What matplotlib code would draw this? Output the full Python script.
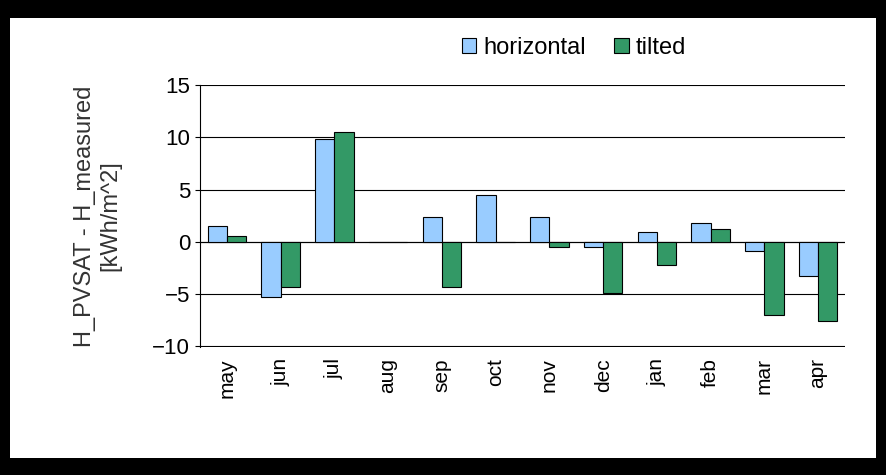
import matplotlib.pyplot as plt
import numpy as np
from matplotlib.patches import Rectangle

plt.rcParams["font.family"] = ["Liberation Sans", "DejaVu Sans"]

months = ["may", "jun", "jul", "aug", "sep", "oct", "nov", "dec", "jan", "feb", "mar", "apr"]
horizontal = [1.5, -5.3, 9.8, 0, 2.4, 4.5, 2.4, -0.5, 0.9, 1.8, -0.9, -3.3]
tilted = [0.6, -4.3, 10.5, 0, -4.3, 0, -0.5, -4.9, -2.2, 1.2, -7.0, -7.6]

fig = plt.figure(figsize=(8.86, 4.75), dpi=100, facecolor="black")
bg = fig.add_axes([0, 0, 1, 1], zorder=-1)
bg.set_axis_off()
bg.set_xlim(0, 886)
bg.set_ylim(475, 0)
bg.add_patch(Rectangle((10, 18), 866, 440, facecolor="white", edgecolor="none"))

ax = fig.add_axes([200 / 886, 1 - 347 / 475, 645 / 886, 262 / 475])
x = np.arange(len(months))
w = 0.36
ax.bar(x - w / 2, horizontal, w, color="#99ccff", edgecolor="black", linewidth=0.8, label="horizontal", zorder=3)
ax.bar(x + w / 2, tilted, w, color="#339966", edgecolor="black", linewidth=0.8, label="tilted", zorder=3)
ax.set_xlim(-0.5, len(months) - 0.5)
ax.set_ylim(-10.05, 15)
ax.set_yticks([-10, -5, 0, 5, 10, 15])
ax.yaxis.grid(True, color="black", linewidth=0.8)
ax.axhline(0, color="black", linewidth=0.8)
ax.spines["top"].set_visible(False)
ax.spines["right"].set_visible(False)
ax.spines["bottom"].set_visible(False)
ax.set_xticks(x)
ax.set_xticklabels(months, rotation=90, fontsize=15)
ax.tick_params(axis="y", labelsize=16)
ax.tick_params(axis="x", length=0, pad=8)
ax.set_ylabel("H_PVSAT - H_measured\n[kWh/m^2]", fontsize=17, color="#333333", labelpad=22)
ax.legend(loc="lower center", bbox_to_anchor=(0.58, 1.02), ncol=2, frameon=False,
          fontsize=17, handlelength=0.6, handleheight=0.6, columnspacing=1.2, handletextpad=0.3)
fig.savefig("out.png", dpi=100, facecolor="black")
